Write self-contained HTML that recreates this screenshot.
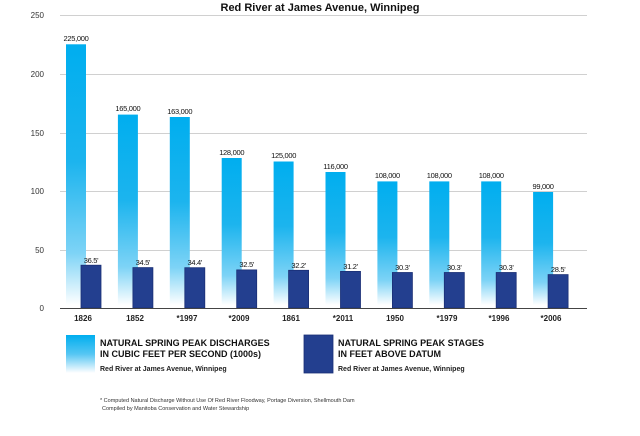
<!DOCTYPE html>
<html><head><style>
body{margin:0;background:#fff;width:640px;height:431px;overflow:hidden;font-family:"Liberation Sans",sans-serif}
</style></head><body>
<svg width="640" height="431" viewBox="0 0 640 431" xmlns="http://www.w3.org/2000/svg" font-family="Liberation Sans, sans-serif">
<defs>
<linearGradient id="g" x1="0" y1="0" x2="0" y2="1">
<stop offset="0" stop-color="#00aeef"/><stop offset="0.45" stop-color="#1cb4ee"/><stop offset="0.8" stop-color="#7dd3f6"/><stop offset="1" stop-color="#ffffff"/>
</linearGradient>
<linearGradient id="g2" x1="0" y1="0" x2="0" y2="1">
<stop offset="0" stop-color="#00aeef"/><stop offset="0.5" stop-color="#55c6f3"/><stop offset="1" stop-color="#ffffff"/>
</linearGradient>
</defs>
<text x="320" y="11" text-anchor="middle" font-size="11" font-weight="bold" fill="#111">Red River at James Avenue, Winnipeg</text>
<g stroke="#d0d0d0" stroke-width="1">
<line x1="60" y1="15.5" x2="587" y2="15.5"/><line x1="60" y1="74.5" x2="587" y2="74.5"/>
<line x1="60" y1="133.5" x2="587" y2="133.5"/><line x1="60" y1="191.5" x2="587" y2="191.5"/>
<line x1="60" y1="250.5" x2="587" y2="250.5"/>
</g>
<g font-size="8" fill="#333" text-anchor="end">
<text x="44" y="18">250</text><text x="44" y="77">200</text><text x="44" y="136">150</text>
<text x="44" y="194">100</text><text x="44" y="253">50</text><text x="44" y="311">0</text>
</g>
<g fill="url(#g)">
<rect x="66" y="44.3" width="20" height="260.7"/>
<rect x="117.9" y="114.6" width="20" height="190.4"/>
<rect x="169.8" y="117" width="20" height="188"/>
<rect x="221.7" y="158" width="20" height="147"/>
<rect x="273.6" y="161.5" width="20" height="143.5"/>
<rect x="325.5" y="172" width="20" height="133"/>
<rect x="377.4" y="181.4" width="20" height="123.6"/>
<rect x="429.3" y="181.4" width="20" height="123.6"/>
<rect x="481.2" y="181.4" width="20" height="123.6"/>
<rect x="533.1" y="192" width="20" height="113"/>
</g>
<g fill="#233f8f" stroke="#1a2f75" stroke-width="0.8">
<rect x="81" y="265.2" width="20" height="42.8"/>
<rect x="132.9" y="267.6" width="20" height="40.4"/>
<rect x="184.8" y="267.7" width="20" height="40.3"/>
<rect x="236.7" y="269.9" width="20" height="38.1"/>
<rect x="288.6" y="270.3" width="20" height="37.7"/>
<rect x="340.5" y="271.4" width="20" height="36.6"/>
<rect x="392.4" y="272.5" width="20" height="35.5"/>
<rect x="444.3" y="272.5" width="20" height="35.5"/>
<rect x="496.2" y="272.5" width="20" height="35.5"/>
<rect x="548.1" y="274.6" width="20" height="33.4"/>
</g>
<g font-size="7.5" fill="#111" text-anchor="middle" letter-spacing="-0.3">
<text x="76" y="41">225,000</text>
<text x="127.9" y="111">165,000</text>
<text x="179.8" y="114">163,000</text>
<text x="231.7" y="155">128,000</text>
<text x="283.6" y="158">125,000</text>
<text x="335.5" y="169">116,000</text>
<text x="387.4" y="178">108,000</text>
<text x="439.3" y="178">108,000</text>
<text x="491.2" y="178">108,000</text>
<text x="543.1" y="189">99,000</text>
<text x="91" y="263">36.5'</text>
<text x="142.9" y="265">34.5'</text>
<text x="194.8" y="265">34.4'</text>
<text x="246.7" y="267">32.5'</text>
<text x="298.6" y="268">32.2'</text>
<text x="350.5" y="269">31.2'</text>
<text x="402.4" y="270">30.3'</text>
<text x="454.3" y="270">30.3'</text>
<text x="506.2" y="270">30.3'</text>
<text x="558.1" y="272">28.5'</text>
</g>
<line x1="60" y1="308.5" x2="587" y2="308.5" stroke="#444" stroke-width="1"/>
<g font-size="8" font-weight="bold" fill="#222" text-anchor="middle">
<text x="83" y="321">1826</text><text x="135" y="321">1852</text><text x="187" y="321">*1997</text>
<text x="239" y="321">*2009</text><text x="291" y="321">1861</text><text x="343" y="321">*2011</text>
<text x="395" y="321">1950</text><text x="447" y="321">*1979</text><text x="499" y="321">*1996</text>
<text x="551" y="321">*2006</text>
</g>
<rect x="66" y="335" width="29" height="38" fill="url(#g2)"/>
<text x="100" y="346" font-size="9" font-weight="bold" fill="#111">NATURAL SPRING PEAK DISCHARGES</text>
<text x="100" y="357" font-size="9" font-weight="bold" fill="#111">IN CUBIC FEET PER SECOND (1000s)</text>
<text x="100" y="371" font-size="7" font-weight="bold" fill="#222">Red River at James Avenue, Winnipeg</text>
<rect x="304" y="335" width="29" height="38" fill="#233f8f" stroke="#1a2f75" stroke-width="0.8"/>
<text x="338" y="346" font-size="9" font-weight="bold" fill="#111">NATURAL SPRING PEAK STAGES</text>
<text x="338" y="357" font-size="9" font-weight="bold" fill="#111">IN FEET ABOVE DATUM</text>
<text x="338" y="371" font-size="7" font-weight="bold" fill="#222">Red River at James Avenue, Winnipeg</text>
<text x="100" y="402" font-size="5.5" fill="#333">* Computed Natural Discharge Without Use Of Red River Floodway, Portage Diversion, Shellmouth Dam</text>
<text x="102" y="410" font-size="5.5" fill="#333">Compiled by Manitoba Conservation and Water Stewardship</text>
</svg>
</body></html>
